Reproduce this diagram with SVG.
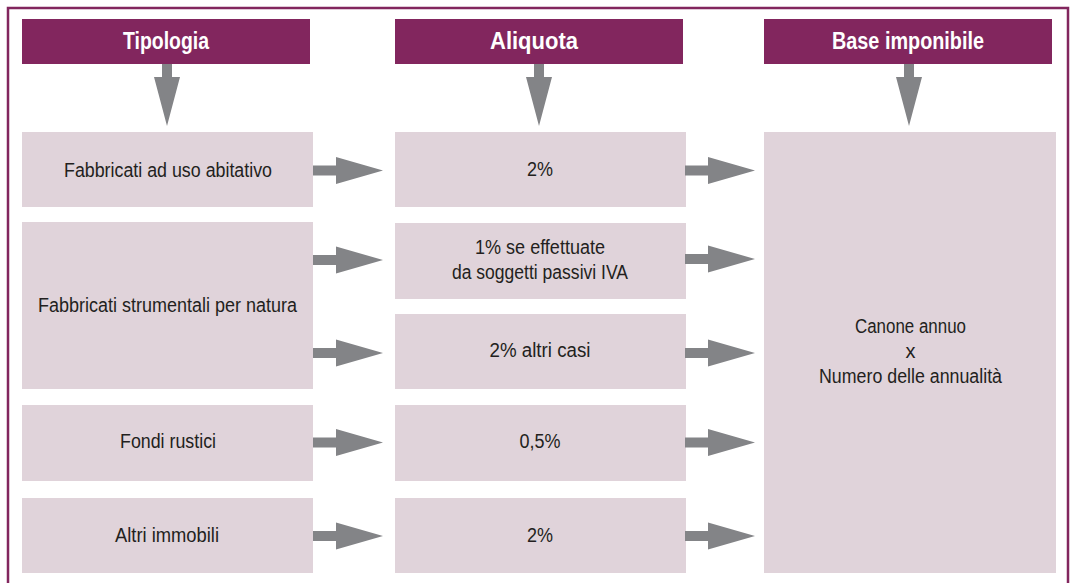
<svg xmlns="http://www.w3.org/2000/svg" width="1070" height="583" viewBox="0 0 1070 583">
<style>
.hdr{fill:#82265E}
.box{fill:#E0D3DA}
.arr{fill:#838487}
.ht{font-family:"Liberation Sans Narrow","Liberation Sans",Arial,sans-serif;font-weight:bold;font-size:23px;fill:#ffffff;text-anchor:middle}
.t{font-family:"Liberation Sans Narrow","Liberation Sans",Arial,sans-serif;font-size:20px;fill:#231F20;text-anchor:middle}
</style>
<defs>
<path id="ra" class="arr" d="M0,-5 H23 V-13.5 L70,0 L23,13.5 V5 H0 Z"/>
<path id="da" class="arr" d="M-5,0 H5 V13 H13 L0,62 L-13,13 H-5 Z"/>
</defs>
<rect x="0" y="0" width="1070" height="583" fill="#ffffff"/>
<path d="M8,583 V8 H1068 V583" fill="none" stroke="#82265E" stroke-width="2.5"/>

<g id="h-tipologia"><rect class="hdr" x="22" y="19" width="288" height="45"/><text class="ht" x="166" y="48.5" textLength="86" lengthAdjust="spacingAndGlyphs">Tipologia</text></g>
<g id="h-aliquota"><rect class="hdr" x="395" y="19" width="288" height="45"/><text class="ht" x="534" y="48.5" textLength="88" lengthAdjust="spacingAndGlyphs">Aliquota</text></g>
<g id="h-base"><rect class="hdr" x="764" y="19" width="288" height="45"/><text class="ht" x="908" y="48.5" textLength="152" lengthAdjust="spacingAndGlyphs">Base imponibile</text></g>

<g id="t1"><rect class="box" x="22" y="132" width="291" height="75"/><text class="t" x="168" y="177" textLength="208" lengthAdjust="spacingAndGlyphs">Fabbricati ad uso abitativo</text></g>
<g id="t2"><rect class="box" x="22" y="222" width="291" height="167"/><text class="t" x="167.5" y="312" textLength="259" lengthAdjust="spacingAndGlyphs">Fabbricati strumentali per natura</text></g>
<g id="t3"><rect class="box" x="22" y="405" width="291" height="76"/><text class="t" x="168" y="448" textLength="96" lengthAdjust="spacingAndGlyphs">Fondi rustici</text></g>
<g id="t4"><rect class="box" x="22" y="498" width="291" height="75"/><text class="t" x="167" y="542" textLength="104" lengthAdjust="spacingAndGlyphs">Altri immobili</text></g>

<g id="a1"><rect class="box" x="395" y="132" width="291" height="75"/><text class="t" x="540" y="176" textLength="26" lengthAdjust="spacingAndGlyphs">2%</text></g>
<g id="a2"><rect class="box" x="395" y="223" width="291" height="76"/><text class="t" x="540" y="254" textLength="130" lengthAdjust="spacingAndGlyphs">1% se effettuate</text><text class="t" x="540" y="279" textLength="176" lengthAdjust="spacingAndGlyphs">da soggetti passivi IVA</text></g>
<g id="a3"><rect class="box" x="395" y="314" width="291" height="75"/><text class="t" x="540" y="357" textLength="101" lengthAdjust="spacingAndGlyphs">2% altri casi</text></g>
<g id="a4"><rect class="box" x="395" y="405" width="291" height="76"/><text class="t" x="540" y="448" textLength="41" lengthAdjust="spacingAndGlyphs">0,5%</text></g>
<g id="a5"><rect class="box" x="395" y="498" width="291" height="75"/><text class="t" x="540" y="542" textLength="26" lengthAdjust="spacingAndGlyphs">2%</text></g>

<g id="base"><rect class="box" x="764" y="132" width="292" height="441"/><text class="t" x="910.5" y="333" textLength="111" lengthAdjust="spacingAndGlyphs">Canone annuo</text><text class="t" x="910.5" y="358">x</text><text class="t" x="910.5" y="383" textLength="183" lengthAdjust="spacingAndGlyphs">Numero delle annualità</text></g>

<g id="connectors">
<use href="#da" x="167" y="64"/>
<use href="#da" x="539" y="64"/>
<use href="#da" x="909" y="64"/>
<use href="#ra" x="313" y="170.5"/>
<use href="#ra" x="313" y="260"/>
<use href="#ra" x="313" y="353"/>
<use href="#ra" x="313" y="442.5"/>
<use href="#ra" x="313" y="536"/>
<use href="#ra" x="685" y="170.5"/>
<use href="#ra" x="685" y="259"/>
<use href="#ra" x="685" y="353"/>
<use href="#ra" x="685" y="442.5"/>
<use href="#ra" x="685" y="536"/>
</g>
</svg>
